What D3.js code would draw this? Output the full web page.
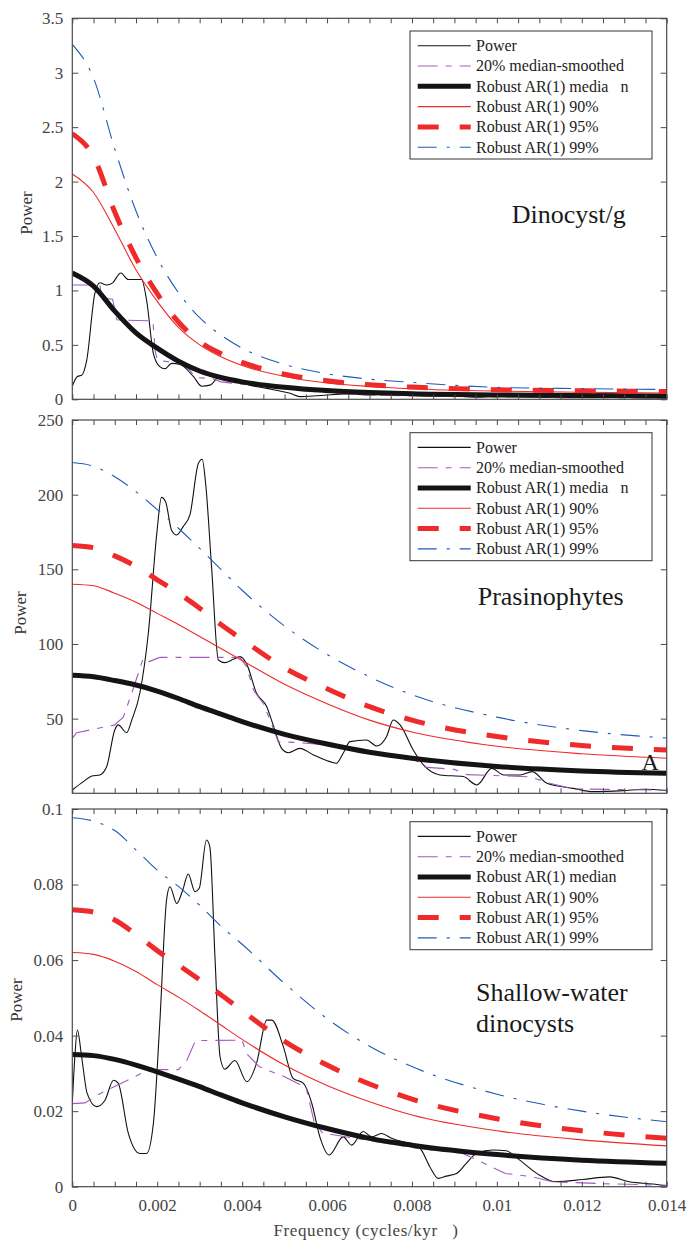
<!DOCTYPE html>
<html>
<head>
<meta charset="utf-8">
<script src="https://cdn.jsdelivr.net/npm/d3@7"></script>
<style>
  body { margin: 0; background: #fff; }
</style>
</head>
<body>
<svg id="chart" width="687" height="1244"></svg>
<script>
// ---- data ----
const freqGrid = [0, 0.0005, 0.001, 0.0015, 0.002, 0.0025, 0.003, 0.0035, 0.004, 0.005, 0.006, 0.007, 0.008, 0.01, 0.012, 0.014];

// Dinocyst/g
const dinoMedian = [1.16, 1.04, 0.81, 0.61, 0.47, 0.35, 0.26, 0.2, 0.16, 0.11, 0.08, 0.062, 0.05, 0.04, 0.034, 0.03];
const dino90 = [2.07, 1.9, 1.56, 1.19, 0.9, 0.66, 0.5, 0.39, 0.31, 0.21, 0.15, 0.118, 0.097, 0.075, 0.065, 0.058];
const dino95 = [2.44, 2.23, 1.72, 1.3, 0.97, 0.71, 0.53, 0.42, 0.34, 0.23, 0.17, 0.133, 0.112, 0.088, 0.078, 0.072];
const dino99 = [3.26, 2.95, 2.3, 1.73, 1.3, 0.98, 0.75, 0.59, 0.47, 0.32, 0.235, 0.185, 0.155, 0.11, 0.098, 0.09];
const dinoPower = [[0,0.12],[0.00012,0.21],[0.00022,0.22],[0.00034,0.36],[0.00053,0.97],[0.00065,1.07],[0.00081,1.05],[0.00095,1.07],[0.00114,1.16],[0.00132,1.1],[0.00163,1.1],[0.00175,0.91],[0.00191,0.42],[0.00206,0.3],[0.00218,0.28],[0.00234,0.33],[0.00254,0.32],[0.00285,0.21],[0.00305,0.12],[0.00324,0.13],[0.00348,0.21],[0.00379,0.18],[0.00418,0.13],[0.00458,0.1],[0.00513,0.055],[0.00536,0.025],[0.00568,0.03],[0.006,0.04],[0.0065,0.05],[0.007,0.04],[0.0075,0.05],[0.008,0.035],[0.009,0.03],[0.0095,0.02],[0.01,0.03],[0.011,0.02],[0.012,0.015],[0.013,0.02],[0.014,0.01]];
const dinoSmooth = [[0,1.05],[0.00065,1.05],[0.0007,0.93],[0.00095,0.92],[0.00105,0.73],[0.0019,0.72],[0.00195,0.45],[0.002,0.36],[0.0025,0.33],[0.0027,0.3],[0.0029,0.2],[0.0033,0.19],[0.0035,0.16],[0.0042,0.13],[0.0046,0.12],[0.0052,0.085],[0.0064,0.05],[0.0075,0.035],[0.009,0.025],[0.011,0.02],[0.014,0.01]];

// Prasinophytes
const prasMedian = [79, 78, 75.5, 72.5, 68.5, 63.5, 58, 53, 48, 39.5, 33, 27.5, 23.5, 18, 15, 13.4];
const pras90 = [140, 139, 134, 128, 120.5, 113, 105, 97, 89, 73, 60, 49, 41, 31.5, 26.5, 23.5];
const pras95 = [166, 164.5, 159, 152, 143, 134, 124, 113, 103, 84, 70, 58, 49, 38, 32, 29];
const pras99 = [221.5, 219, 212, 202, 190, 177.5, 164, 150, 136, 112, 93, 78, 66, 51, 42, 37];
const prasPower = [[0,2.2],[0.00026,7.8],[0.00046,11.6],[0.00065,12.3],[0.00081,17.9],[0.001,42.4],[0.00108,45.8],[0.00128,40.6],[0.0014,49],[0.00159,67],[0.00179,107],[0.00199,174],[0.0021,198.2],[0.0022,195],[0.00234,176],[0.00246,173],[0.00261,178.6],[0.00277,186.4],[0.00297,221],[0.00306,223.7],[0.00314,207.6],[0.00328,151.8],[0.00344,89.3],[0.00359,87.5],[0.00379,89.7],[0.00395,91.5],[0.0041,87],[0.00434,67],[0.00458,58],[0.00473,45.8],[0.00493,30.1],[0.00509,27.2],[0.00536,30.1],[0.00568,25.7],[0.00607,21.2],[0.00622,20.1],[0.00638,26.8],[0.00654,34.6],[0.00693,35.7],[0.00717,31.7],[0.0074,37.9],[0.00756,49.1],[0.00772,45.8],[0.00803,29],[0.00827,19],[0.00866,12.3],[0.00921,11.2],[0.00953,5.6],[0.00988,16.7],[0.01016,12.3],[0.01055,12.3],[0.01083,14.5],[0.01118,6.7],[0.0118,3.3],[0.01227,1.1],[0.01298,1.8],[0.01345,2.7],[0.014,1.8]];
const prasSmooth = [[0,36.8],[0.0001,40.6],[0.001,45.8],[0.0012,51],[0.0014,67],[0.00167,90.4],[0.00179,88],[0.00206,91],[0.00395,91],[0.0041,85],[0.00427,69],[0.0045,60],[0.00466,49],[0.00485,34.6],[0.0053,34],[0.0062,32],[0.0075,25],[0.0081,22],[0.0083,17.5],[0.009,16],[0.0093,12.5],[0.0108,11],[0.0112,7],[0.0118,3],[0.014,2]];

// Shallow-water dinocysts
const shalMedian = [0.035, 0.0347, 0.0337, 0.0322, 0.0304, 0.0285, 0.0265, 0.0243, 0.0222, 0.0185, 0.0154, 0.0128, 0.011, 0.0085, 0.007, 0.0062];
const shal90 = [0.062, 0.0615, 0.0597, 0.057, 0.0535, 0.0502, 0.0466, 0.0428, 0.039, 0.0322, 0.0268, 0.0225, 0.019, 0.0148, 0.0124, 0.0108];
const shal95 = [0.0733, 0.0727, 0.0706, 0.0668, 0.0625, 0.0587, 0.0548, 0.0508, 0.0466, 0.0385, 0.0322, 0.0272, 0.0232, 0.018, 0.0148, 0.0128];
const shal99 = [0.0977, 0.0968, 0.0943, 0.0892, 0.0838, 0.0795, 0.0745, 0.069, 0.0642, 0.0538, 0.0445, 0.0372, 0.0318, 0.0245, 0.02, 0.0172];
const shalPower = [[0,0.0221],[0.00006,0.0344],[0.00012,0.0415],[0.00022,0.0344],[0.00035,0.0247],[0.00057,0.0212],[0.00077,0.0229],[0.00097,0.0282],[0.00108,0.0274],[0.00132,0.0141],[0.00159,0.0088],[0.00175,0.0088],[0.00191,0.0168],[0.00206,0.0432],[0.00222,0.0759],[0.0023,0.0794],[0.00246,0.075],[0.0026,0.0785],[0.00273,0.0828],[0.00289,0.0781],[0.00299,0.079],[0.00316,0.0918],[0.00324,0.09],[0.00336,0.0609],[0.00348,0.0344],[0.00359,0.0311],[0.00383,0.0334],[0.00411,0.0278],[0.00434,0.0327],[0.00458,0.0441],[0.0047,0.0441],[0.00497,0.0371],[0.0052,0.0287],[0.00544,0.0274],[0.00564,0.0221],[0.00583,0.0132],[0.00605,0.0084],[0.00638,0.0132],[0.00658,0.011],[0.00685,0.0146],[0.00705,0.0132],[0.00728,0.0141],[0.00752,0.0128],[0.00819,0.0101],[0.00842,0.0053],[0.00862,0.0022],[0.00881,0.0028],[0.00905,0.0035],[0.00928,0.0062],[0.00952,0.0088],[0.00991,0.0097],[0.01022,0.0095],[0.01053,0.0071],[0.011,0.0031],[0.01139,0.0013],[0.01202,0.0019],[0.01265,0.0026],[0.01312,0.0013],[0.01367,0.0007],[0.014,0.0002]];
const shalSmooth = [[0,0.022],[0.0003,0.0222],[0.0006,0.0243],[0.0009,0.026],[0.0013,0.0282],[0.0017,0.0304],[0.002,0.031],[0.0025,0.031],[0.0027,0.0335],[0.0029,0.0387],[0.004,0.0388],[0.0041,0.0353],[0.0044,0.0318],[0.005,0.0291],[0.0053,0.0274],[0.0055,0.0265],[0.0057,0.017],[0.0059,0.0142],[0.0069,0.0124],[0.0081,0.0102],[0.0092,0.0088],[0.0097,0.0062],[0.0102,0.0035],[0.0108,0.0027],[0.0113,0.0013],[0.0125,0.0008],[0.014,0.0004]];

// tick labels
const freqTicks = [0, 0.002, 0.004, 0.006, 0.008, 0.01, 0.012, 0.014];
const dinoTicks = [0, 0.5, 1, 1.5, 2, 2.5, 3, 3.5];
const prasTicks = [50, 100, 150, 200, 250];
const shalTicks = [0, 0.02, 0.04, 0.06, 0.08, 0.1];

const legendNames = ["Power", "20% median-smoothed", "Robust AR(1) media   n", "Robust AR(1) 90%", "Robust AR(1) 95%", "Robust AR(1) 99%"];
const legendNames3 = ["Power", "20% median-smoothed", "Robust AR(1) median", "Robust AR(1) 90%", "Robust AR(1) 95%", "Robust AR(1) 99%"];

// ---- layout / styles ----
const serif = '"Liberation Serif"';
const svg = d3.select("#chart");
const x = d3.scaleLinear().domain([0, 0.014]).range([72.3, 666.7]);
const minorTicks = d3.range(0, 0.01401, 0.0005);
const axisColor = "#4a4a4a";

const styles = [
  { stroke: "#111", width: 1.1, dash: null },                 // power
  { stroke: "#a05cbc", width: 1.1, dash: "20,8,6,8" },        // smoothed
  { stroke: "#141414", width: 5, dash: null },                // median
  { stroke: "#ee2a2a", width: 1.1, dash: null },              // 90
  { stroke: "#ee2a2a", width: 5, dash: "21,21" },             // 95
  { stroke: "#1f5bb8", width: 1.1, dash: "19,10,3,10" }       // 99
];

const panels = [
  { top: 18.3, bottom: 399.3, yMax: 3.5, ticks: dinoTicks, power: dinoPower, smooth: dinoSmooth,
    ar: [dinoMedian, dino90, dino95, dino99], names: legendNames, ylabX: 31.7, ylabY: 213,
    title: [["Dinocyst/g", 511.7, 222.7]] },
  { top: 420, bottom: 793.3, yMax: 250, ticks: prasTicks, power: prasPower, smooth: prasSmooth,
    ar: [prasMedian, pras90, pras95, pras99], names: legendNames, ylabX: 26, ylabY: 613,
    title: [["Prasinophytes", 477.7, 605]] },
  { top: 809, bottom: 1186.7, yMax: 0.1, ticks: shalTicks, power: shalPower, smooth: shalSmooth,
    ar: [shalMedian, shal90, shal95, shal99], names: legendNames3, ylabX: 21.7, ylabY: 1000,
    title: [["Shallow-water", 476, 1000.7], ["dinocysts", 476, 1031.7]], xlabels: true }
];

panels.forEach((p, pi) => {
  const y = d3.scaleLinear().domain([0, p.yMax]).range([p.bottom, p.top]);
  const g = svg.append("g");

  g.append("clipPath").attr("id", "clip" + pi)
    .append("rect").attr("x", x(0)).attr("y", p.top)
    .attr("width", x(0.014) - x(0)).attr("height", p.bottom - p.top);

  const plot = g.append("g").attr("clip-path", `url(#clip${pi})`);
  const lineXY = d3.line().x(d => x(d[0])).y(d => y(d[1]));

  const series = [
    { pts: p.power, curve: d3.curveMonotoneX, s: styles[0] },
    { pts: p.smooth, curve: d3.curveLinear, s: styles[1] },
    { pts: freqGrid.map((f, i) => [f, p.ar[0][i]]), curve: d3.curveMonotoneX, s: styles[2] },
    { pts: freqGrid.map((f, i) => [f, p.ar[1][i]]), curve: d3.curveMonotoneX, s: styles[3] },
    { pts: freqGrid.map((f, i) => [f, p.ar[2][i]]), curve: d3.curveMonotoneX, s: styles[4] },
    { pts: freqGrid.map((f, i) => [f, p.ar[3][i]]), curve: d3.curveMonotoneX, s: styles[5] }
  ];
  series.forEach(sr => {
    plot.append("path")
      .attr("d", lineXY.curve(sr.curve)(sr.pts))
      .attr("fill", "none")
      .attr("stroke", sr.s.stroke)
      .attr("stroke-width", sr.s.width)
      .attr("stroke-dasharray", sr.s.dash);
  });

  // axes
  const yLeft = d3.axisLeft(y).tickValues(p.ticks).tickSizeInner(-6).tickSizeOuter(0).tickPadding(9)
    .tickFormat(d3.format("~g"));
  const yRight = d3.axisRight(y).tickValues(p.ticks).tickSizeInner(-6).tickSizeOuter(0).tickFormat("");
  const xTop = d3.axisTop(x).tickValues(minorTicks).tickSizeInner(-5).tickSizeOuter(0).tickFormat("");
  const xBot = d3.axisBottom(x).tickValues(minorTicks).tickSizeInner(-5).tickSizeOuter(0).tickPadding(12)
    .tickFormat(d => (p.xlabels && freqTicks.some(t => Math.abs(t - d) < 1e-9)) ? d3.format("~g")(d) : "");

  const axes = [
    [yLeft, `translate(${x(0)},0)`],
    [yRight, `translate(${x(0.014)},0)`],
    [xTop, `translate(0,${p.top})`],
    [xBot, `translate(0,${p.bottom})`]
  ];
  axes.forEach(([ax, tr]) => {
    const a = g.append("g").attr("transform", tr).call(ax);
    a.select(".domain").remove();
    a.selectAll("line").attr("stroke", axisColor);
    a.selectAll("text").attr("fill", "#454545")
      .style("font-family", serif).style("font-size", "17px");
  });

  g.append("rect")
    .attr("x", x(0)).attr("y", p.top)
    .attr("width", x(0.014) - x(0)).attr("height", p.bottom - p.top)
    .attr("fill", "none").attr("stroke", axisColor).attr("stroke-width", 1.2);

  // y label
  g.append("text")
    .attr("transform", `translate(${p.ylabX},${p.ylabY}) rotate(-90)`)
    .attr("text-anchor", "middle")
    .attr("fill", "#333")
    .style("font-family", serif).style("font-size", "17px")
    .text("Power");

  // legend
  const lx = 410, ly = p.top + 12.7;
  const leg = g.append("g");
  leg.append("rect").attr("x", lx).attr("y", ly).attr("width", 242).attr("height", 128)
    .attr("fill", "#fff").attr("stroke", "#333").attr("stroke-width", 1);
  p.names.forEach((name, i) => {
    const cy = ly + 14.7 + i * 20.3;
    const s = styles[i];
    leg.append("line").attr("x1", 417.7).attr("x2", 470.7).attr("y1", cy).attr("y2", cy)
      .attr("stroke", s.stroke).attr("stroke-width", s.width).attr("stroke-dasharray", s.dash);
    leg.append("text").attr("x", 476).attr("y", cy + 5.3)
      .attr("fill", "#222")
      .style("font-family", serif).style("font-size", "16px").style("white-space", "pre")
      .attr("xml:space", "preserve")
      .text(name);
  });

  // panel title
  p.title.forEach(([t, tx, ty]) => {
    g.append("text").attr("x", tx).attr("y", ty).attr("fill", "#1a1a1a")
      .style("font-family", serif).style("font-size", "26px").text(t);
  });
});

// stray letter in the middle panel
svg.append("text").attr("x", 641.5).attr("y", 770).attr("fill", "#1a1a1a")
  .style("font-family", serif).style("font-size", "24px").text("A");

// x-axis label
svg.append("text").attr("x", 366).attr("y", 1236).attr("text-anchor", "middle")
  .attr("fill", "#444")
  .style("font-family", serif).style("font-size", "17px").style("white-space", "pre")
  .attr("xml:space", "preserve").style("letter-spacing", "0.6px")
  .text("Frequency (cycles/kyr   )");
</script>
</body>
</html>
